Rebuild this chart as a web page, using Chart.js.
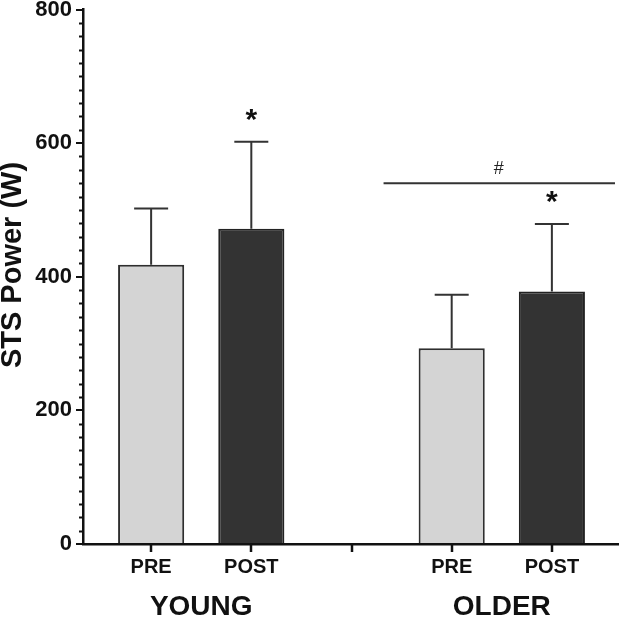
<!DOCTYPE html>
<html>
<head>
<meta charset="utf-8">
<script src="https://cdn.jsdelivr.net/npm/chart.js@4"></script>
<style>
  html, body { margin: 0; padding: 0; background: #fff; }
  #wrap { width: 620px; height: 618px; }
</style>
</head>
<body>
<div id="wrap"><canvas id="barChart" width="620" height="618"></canvas></div>
<script>
// data
const groups = ['YOUNG', 'OLDER'];
const conditions = ['PRE', 'POST'];
const preMean = [418, 293];
const postMean = [472, 378];
const preSD = [84, 80];
const postSD = [130, 101];
const yTicks = [0, 200, 400, 600, 800];
// significance marks: * on POST bars, # over the OLDER group
const starOnPost = [true, true];
const hashLevel = 540;

const FONT = "'Liberation Sans', Arial, sans-serif";
const INK = '#111';

// x position of a bar: groups are 3 units apart, with an empty slot between
function xPos(g, c) { return g * 3 + c + 1; }

const tickVals = [1, 2, 3, 4, 5];
const tickText = ['PRE', 'POST', '', 'PRE', 'POST'];

const preData = groups.map((g, i) => ({ x: xPos(i, 0), y: preMean[i], sd: preSD[i] }));
const postData = groups.map((g, i) => ({ x: xPos(i, 1), y: postMean[i], sd: postSD[i] }));

// error bars (upward only), minor ticks, titles, stars and #
const extras = {
  id: 'extras',
  afterDatasetsDraw(chart) {
    const c = chart.ctx;
    const xs = chart.scales.x, ys = chart.scales.y;
    c.save();
    c.strokeStyle = '#333';
    c.lineWidth = 2;
    chart.data.datasets.forEach((ds) => {
      ds.data.forEach(p => {
        const px = xs.getPixelForValue(p.x);
        const top = ys.getPixelForValue(p.y);
        const cap = ys.getPixelForValue(p.y + p.sd);
        c.beginPath();
        c.moveTo(px, top); c.lineTo(px, cap);
        c.moveTo(px - 17, cap); c.lineTo(px + 17, cap);
        c.stroke();
      });
    });
    c.restore();
  },
  afterDraw(chart) {
    const c = chart.ctx;
    const xs = chart.scales.x, ys = chart.scales.y;
    const area = chart.chartArea;
    c.save();
    c.strokeStyle = INK;
    c.lineWidth = 2;
    // minor ticks on y axis
    for (let v = 20; v < 800; v += 20) {
      if (v % 200 === 0) continue;
      const py = Math.round(ys.getPixelForValue(v)) + 0.5;
      c.beginPath();
      c.moveTo(area.left - 4, py); c.lineTo(area.left, py);
      c.stroke();
    }
    // x tick marks
    c.lineWidth = 2.5;
    tickVals.forEach(v => {
      const px = Math.round(xs.getPixelForValue(v));
      c.beginPath();
      c.moveTo(px, area.bottom); c.lineTo(px, area.bottom + 8);
      c.stroke();
    });
    c.fillStyle = INK;
    c.textAlign = 'center';
    c.textBaseline = 'middle';
    // y axis title
    c.save();
    c.translate(13, 265);
    c.rotate(-Math.PI / 2);
    c.font = 'bold 29px ' + FONT;
    c.fillText('STS Power (W)', 0, 0);
    c.restore();
    // group labels
    c.font = 'bold 28px ' + FONT;
    groups.forEach((g, i) => {
      const px = (xs.getPixelForValue(xPos(i, 0)) + xs.getPixelForValue(xPos(i, 1))) / 2;
      c.fillText(g, px, 607);
    });
    // stars above POST error bars
    c.font = 'bold 30px ' + FONT;
    groups.forEach((g, i) => {
      if (!starOnPost[i]) return;
      const px = xs.getPixelForValue(xPos(i, 1));
      const py = ys.getPixelForValue(postMean[i] + postSD[i]);
      c.fillText('*', px, py - 21);
    });
    // # line over older group
    const hy = ys.getPixelForValue(hashLevel);
    c.strokeStyle = '#333';
    c.lineWidth = 2;
    c.beginPath();
    c.moveTo(xs.getPixelForValue(3.32), hy);
    c.lineTo(xs.getPixelForValue(5.63), hy);
    c.stroke();
    c.font = '18px ' + FONT;
    c.fillStyle = '#222';
    c.fillText('#', xs.getPixelForValue(4.47), hy - 14);
    c.restore();
  }
};

new Chart(document.getElementById('barChart'), {
  type: 'bar',
  data: {
    datasets: [
      {
        label: conditions[0],
        data: preData,
        backgroundColor: '#d4d4d4',
        borderColor: '#2e2e2e',
        borderWidth: 2,
        borderSkipped: 'start',
        grouped: false,
        barPercentage: 0.66,
        categoryPercentage: 1
      },
      {
        label: conditions[1],
        data: postData,
        backgroundColor: '#333333',
        borderColor: '#222',
        borderWidth: 2,
        borderSkipped: 'start',
        grouped: false,
        barPercentage: 0.66,
        categoryPercentage: 1
      }
    ]
  },
  options: {
    responsive: false,
    animation: false,
    layout: { padding: { top: 5, right: 2, left: 0, bottom: 0 } },
    plugins: { legend: { display: false }, tooltip: { enabled: false } },
    scales: {
      x: {
        type: 'linear',
        offset: false,
        min: 0.32,
        max: 5.66,
        afterBuildTicks(scale) { scale.ticks = tickVals.map(v => ({ value: v })); },
        afterFit(scale) { scale.height = 74; },
        ticks: {
          autoSkip: false,
          maxRotation: 0,
          padding: 3,
          color: INK,
          font: { family: FONT, size: 20, weight: 'bold' },
          callback: (v) => tickText[tickVals.indexOf(v)] ?? ''
        },
        grid: { offset: false, drawOnChartArea: false, drawTicks: true, tickLength: 8, color: INK, lineWidth: 2 },
        border: { display: true, color: INK, width: 2.5 }
      },
      y: {
        min: 0,
        max: 800,
        afterBuildTicks(scale) { scale.ticks = yTicks.map(v => ({ value: v })); },
        afterFit(scale) { scale.width = 83; },
        ticks: {
          padding: 4,
          color: INK,
          font: { family: FONT, size: 22, weight: 'bold', lineHeight: 0.5 }
        },
        grid: { drawOnChartArea: false, drawTicks: true, tickLength: 7, color: INK, lineWidth: 2 },
        border: { display: true, color: INK, width: 2.5 }
      }
    }
  },
  plugins: [extras]
});
</script>
</body>
</html>
